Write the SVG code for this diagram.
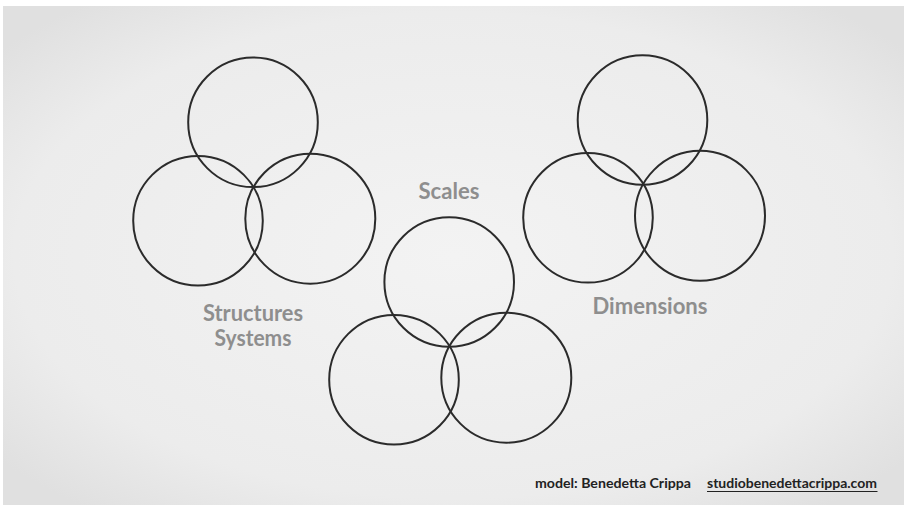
<svg xmlns="http://www.w3.org/2000/svg" width="904" height="507" viewBox="0 0 904 507">
  <defs>
    <radialGradient id="bg" cx="0.5" cy="0.5" r="0.65">
      <stop offset="0" stop-color="#f3f3f3"/>
      <stop offset="0.75" stop-color="#ececec"/>
      <stop offset="1" stop-color="#e0e0e0"/>
    </radialGradient>
  </defs>
  <style>
    .c { fill: none; stroke: #2b2b2b; stroke-width: 2; }
    .lbl { font-family: Lato, "Open Sans", sans-serif; font-weight: bold; font-size: 22px; fill: #8e8e8e; text-anchor: middle; }
    .credit { font-family: Lato, "Open Sans", sans-serif; font-weight: bold; font-size: 13.5px; fill: #222; }
  </style>
  <rect width="904" height="507" fill="#ffffff"/>
  <rect x="3" y="6" width="901" height="499" fill="url(#bg)"/>

  <g id="structures-systems">
    <circle class="c" cx="253" cy="122.3" r="64.8"/>
    <circle class="c" cx="198" cy="220.7" r="64.8"/>
    <circle class="c" cx="310.3" cy="218.7" r="65"/>
    <text class="lbl" x="253" y="321" textLength="100" lengthAdjust="spacingAndGlyphs">Structures</text>
    <text class="lbl" x="253" y="346" textLength="77" lengthAdjust="spacingAndGlyphs">Systems</text>
  </g>

  <g id="scales">
    <circle class="c" cx="449.2" cy="282" r="64.8"/>
    <circle class="c" cx="394" cy="379.7" r="64.8"/>
    <circle class="c" cx="506.3" cy="377.7" r="65"/>
    <text class="lbl" x="449" y="199" textLength="61" lengthAdjust="spacingAndGlyphs">Scales</text>
  </g>

  <g id="dimensions">
    <circle class="c" cx="642.5" cy="120" r="64.8"/>
    <circle class="c" cx="588" cy="217.8" r="64.8"/>
    <circle class="c" cx="700" cy="215.8" r="65"/>
    <text class="lbl" x="650" y="314" textLength="115" lengthAdjust="spacingAndGlyphs">Dimensions</text>
  </g>

  <g id="connectors"></g>

  <g id="credits">
    <text class="credit" x="535" y="488" textLength="156" lengthAdjust="spacingAndGlyphs">model: Benedetta Crippa</text>
    <text class="credit" x="707" y="488" textLength="170" lengthAdjust="spacingAndGlyphs">studiobenedettacrippa.com</text>
    <line x1="707" y1="491.5" x2="877.5" y2="491.5" stroke="#222" stroke-width="1.2"/>
  </g>
</svg>
